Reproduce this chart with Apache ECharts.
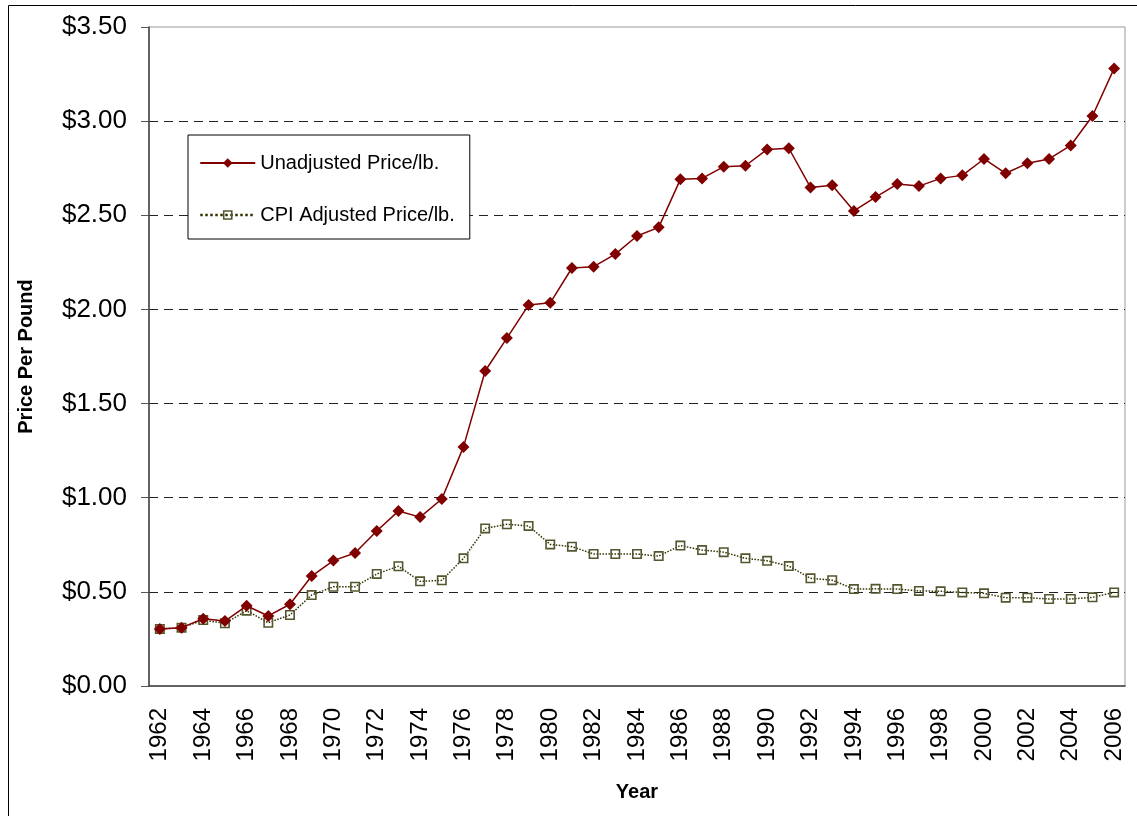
<!DOCTYPE html>
<html lang="en">
<head>
    <meta charset="UTF-8">
    <title>Price Per Pound</title>
    <script src="https://cdn.jsdelivr.net/npm/echarts@6/dist/echarts.min.js"></script>
    <style>
        body {
            margin: 0;
            background: #fff;
        }
        #chart {
            width: 1137px;
            height: 816px;
        }
    </style>
</head>
<body>
<div id="chart"></div>
<script>
    // years on the x axis
    var years = [];
    for (var y = 1962; y <= 2006; y++) years.push(String(y));

    // unadjusted price per lb
    var unadjusted = [
        0.303, 0.31, 0.357, 0.345, 0.426, 0.372, 0.434, 0.584, 0.666, 0.706,
        0.823, 0.929, 0.897, 0.993, 1.27, 1.673, 1.848, 2.023, 2.035, 2.22,
        2.227, 2.294, 2.39, 2.436, 2.691, 2.696, 2.758, 2.763, 2.85, 2.856,
        2.648, 2.659, 2.523, 2.597, 2.666, 2.655, 2.696, 2.712, 2.799, 2.723,
        2.776, 2.799, 2.871, 3.027, 3.28
    ];

    // CPI adjusted price per lb
    var cpiAdjusted = [
        0.303, 0.31, 0.35, 0.333, 0.40, 0.336, 0.377, 0.483, 0.527, 0.527,
        0.595, 0.636, 0.556, 0.561, 0.678, 0.837, 0.859, 0.85, 0.752, 0.74,
        0.701, 0.701, 0.701, 0.69, 0.746, 0.722, 0.711, 0.678, 0.665, 0.637,
        0.572, 0.562, 0.515, 0.516, 0.515, 0.505, 0.503, 0.497, 0.492, 0.469,
        0.469, 0.462, 0.462, 0.471, 0.497
    ];

    var font = 'Arial, "Liberation Sans", sans-serif';
    // hollow square, the dotted line shows through it
    var squareRing = 'path://M0,0H10V10H0Z M1.6,1.6V8.4H8.4V1.6Z';

    var chart = echarts.init(document.getElementById('chart'));

    var option = {
        animation: false,
        textStyle: { fontFamily: font },
        graphic: [{
            type: 'rect',
            silent: true,
            shape: { x: 8.5, y: 5.5, width: 1200, height: 900 },
            style: { fill: 'none', stroke: '#000', lineWidth: 1 }
        }],
        legend: {
            orient: 'vertical',
            left: 188,
            top: 135,
            padding: [18, 15, 14, 11],
            itemGap: 32,
            itemWidth: 55,
            itemHeight: 12,
            backgroundColor: '#fff',
            borderColor: '#000',
            borderWidth: 1,
            textStyle: { fontSize: 20, color: '#000', fontFamily: font },
            data: [
                { name: 'Unadjusted Price/lb.' },
                { name: 'CPI Adjusted Price/lb.', lineStyle: { width: 2.5 } }
            ]
        },
        grid: {
            left: 149,
            top: 27,
            right: 12,
            bottom: 130,
            outerBoundsMode: 'none',
            show: true,
            borderColor: '#999',
            borderWidth: 1
        },
        xAxis: {
            type: 'category',
            data: years,
            boundaryGap: true,
            name: 'Year',
            nameLocation: 'middle',
            nameGap: 96,
            nameTextStyle: { fontSize: 20, fontWeight: 'bold', color: '#000' },
            axisLine: { lineStyle: { color: '#404040', width: 1.5 } },
            axisTick: { interval: 0, length: 8, lineStyle: { color: '#555' } },
            axisLabel: {
                interval: 1,
                rotate: 90,
                margin: 22,
                fontSize: 24,
                color: '#000'
            },
            splitLine: { show: false }
        },
        yAxis: {
            type: 'value',
            min: 0,
            max: 3.5,
            interval: 0.5,
            name: 'Price Per Pound',
            nameLocation: 'middle',
            nameGap: 113,
            nameRotate: 90,
            nameTextStyle: { fontSize: 20, fontWeight: 'bold', color: '#000' },
            axisLine: { show: true, lineStyle: { color: '#404040', width: 1.5 } },
            axisTick: { show: true, length: 8, lineStyle: { color: '#555' } },
            axisLabel: {
                margin: 22,
                fontSize: 26,
                color: '#000',
                padding: [5, 0, 0, 0],
                formatter: function (v) { return '$' + v.toFixed(2); }
            },
            splitLine: {
                show: true,
                showMinLine: false,
                showMaxLine: false,
                lineStyle: { color: '#222', type: [9, 6], width: 1 }
            }
        },
        series: [
            {
                name: 'Unadjusted Price/lb.',
                type: 'line',
                z: 3,
                data: unadjusted,
                symbol: 'diamond',
                symbolSize: 12,
                lineStyle: { color: '#800000', width: 1.5 },
                itemStyle: { color: '#800000' }
            },
            {
                name: 'CPI Adjusted Price/lb.',
                type: 'line',
                z: 2,
                data: cpiAdjusted,
                symbol: squareRing,
                symbolSize: 10,
                lineStyle: { color: '#333300', width: 1.5, type: 'dotted' },
                itemStyle: { color: '#55552e' }
            }
        ]
    };

    chart.setOption(option);
</script>
</body>
</html>
